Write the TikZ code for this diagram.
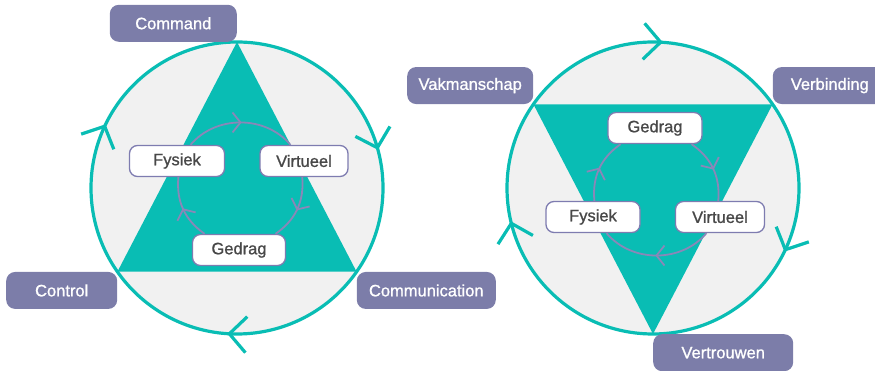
\documentclass[tikz,border=0pt]{standalone}
\usepackage{fontspec}
\setmainfont{Liberation Sans}[FakeBold=1]
\usetikzlibrary{decorations.markings}

\definecolor{ringteal}{HTML}{09BDB4}
\definecolor{wheelgray}{HTML}{F1F1F1}
\definecolor{lilac}{HTML}{7C7DA9}
\definecolor{lilacline}{HTML}{7E7CB0}
\definecolor{lilacarc}{HTML}{8A87B8}
\definecolor{inktext}{HTML}{484848}

\tikzset{
  % open chevron, tip at the origin, pointing along -y
  chev/.pic={\draw[ringteal, line width=3.2pt] (18pt,17pt) -- (0pt,0pt) -- (-18pt,17pt);},
  ring/.style={draw=ringteal, line width=3.2pt},
  tag/.style={fill=lilac, rounded corners=9pt, text=white,
    minimum height=37pt, inner sep=0pt},
  facet/.style={draw=lilacline, fill=white, line width=1.3pt,
    rounded corners=8pt, minimum height=31pt, inner sep=0pt, text=inktext},
  flow/.style={draw=lilacarc, line width=1.8pt,
    decoration={markings,
      mark=at position 0.5 with {\draw[lilacarc, line width=1.8pt] (-8pt,10pt) -- (0pt,0pt) -- (-8pt,-10pt);}},
    postaction={decorate}}
}

\begin{document}
\begin{tikzpicture}[x=1pt, y=1pt, font=\fontsize{16.5}{20}\selectfont]
  \useasboundingbox (0,0) rectangle (875,371);

  % left wheel
  \begin{scope}[shift={(237,183)}]
    \fill[wheelgray] (0,0) circle[radius=146];
    \coordinate (a1) at (90:146);
    \coordinate (a2) at (215:146);
    \coordinate (a3) at (-35:146);
    \fill[ringteal] (a1) -- (a2) -- (a3) -- cycle;
    \draw[ring] (0,0) circle[radius=146];
    \foreach \a in {155,16,267}
      \pic[rotate=\a] at (\a:146) {chev};

    \node[facet, minimum width=95pt] (fys1) at (-60,27) {Fysiek};
    \node[facet, minimum width=88pt] (vir1) at (67,27) {Virtueel};
    \node[facet, minimum width=93pt] (ged1) at (2,-62) {Gedrag};
    \path (fys1) edge[flow, bend left=50] (vir1)
          (vir1) edge[flow, bend left=30] (ged1)
          (ged1) edge[flow, bend left=30] (fys1);

    \node[tag, minimum width=127pt, anchor=south east] (cmd) at (a1) {Command};
    \node[tag, minimum width=111pt, anchor=north east] (ctl) at (a2) {Control};
    \node[tag, minimum width=139pt, anchor=north west] (com) at (a3) {Communication};
  \end{scope}

  % right wheel
  \begin{scope}[shift={(653,183)}]
    \fill[wheelgray] (0,0) circle[radius=146];
    \coordinate (b1) at (145:146);
    \coordinate (b2) at (35:146);
    \coordinate (b3) at (270:146);
    \fill[ringteal] (b1) -- (b2) -- (b3) -- cycle;
    \draw[ring] (0,0) circle[radius=146];
    \foreach \a in {87,-25,194}
      \pic[rotate=\a] at (\a:146) {chev};

    \node[facet, minimum width=94pt] (ged2) at (2,60) {Gedrag};
    \node[facet, minimum width=94pt] (fys2) at (-60,-29) {Fysiek};
    \node[facet, minimum width=89pt] (vir2) at (67,-29) {Virtueel};
    \path (fys2) edge[flow, bend left=30] (ged2)
          (ged2) edge[flow, bend left=30] (vir2)
          (vir2) edge[flow, bend left=50] (fys2);

    \node[tag, minimum width=126pt, anchor=south east] (vak) at (b1) {Vakmanschap};
    \node[tag, minimum width=114pt, anchor=south west] (ver) at (b2) {Verbinding};
    \node[tag, minimum width=140pt, anchor=north west] (vtr) at (b3) {Vertrouwen};
  \end{scope}
\end{tikzpicture}
\end{document}
